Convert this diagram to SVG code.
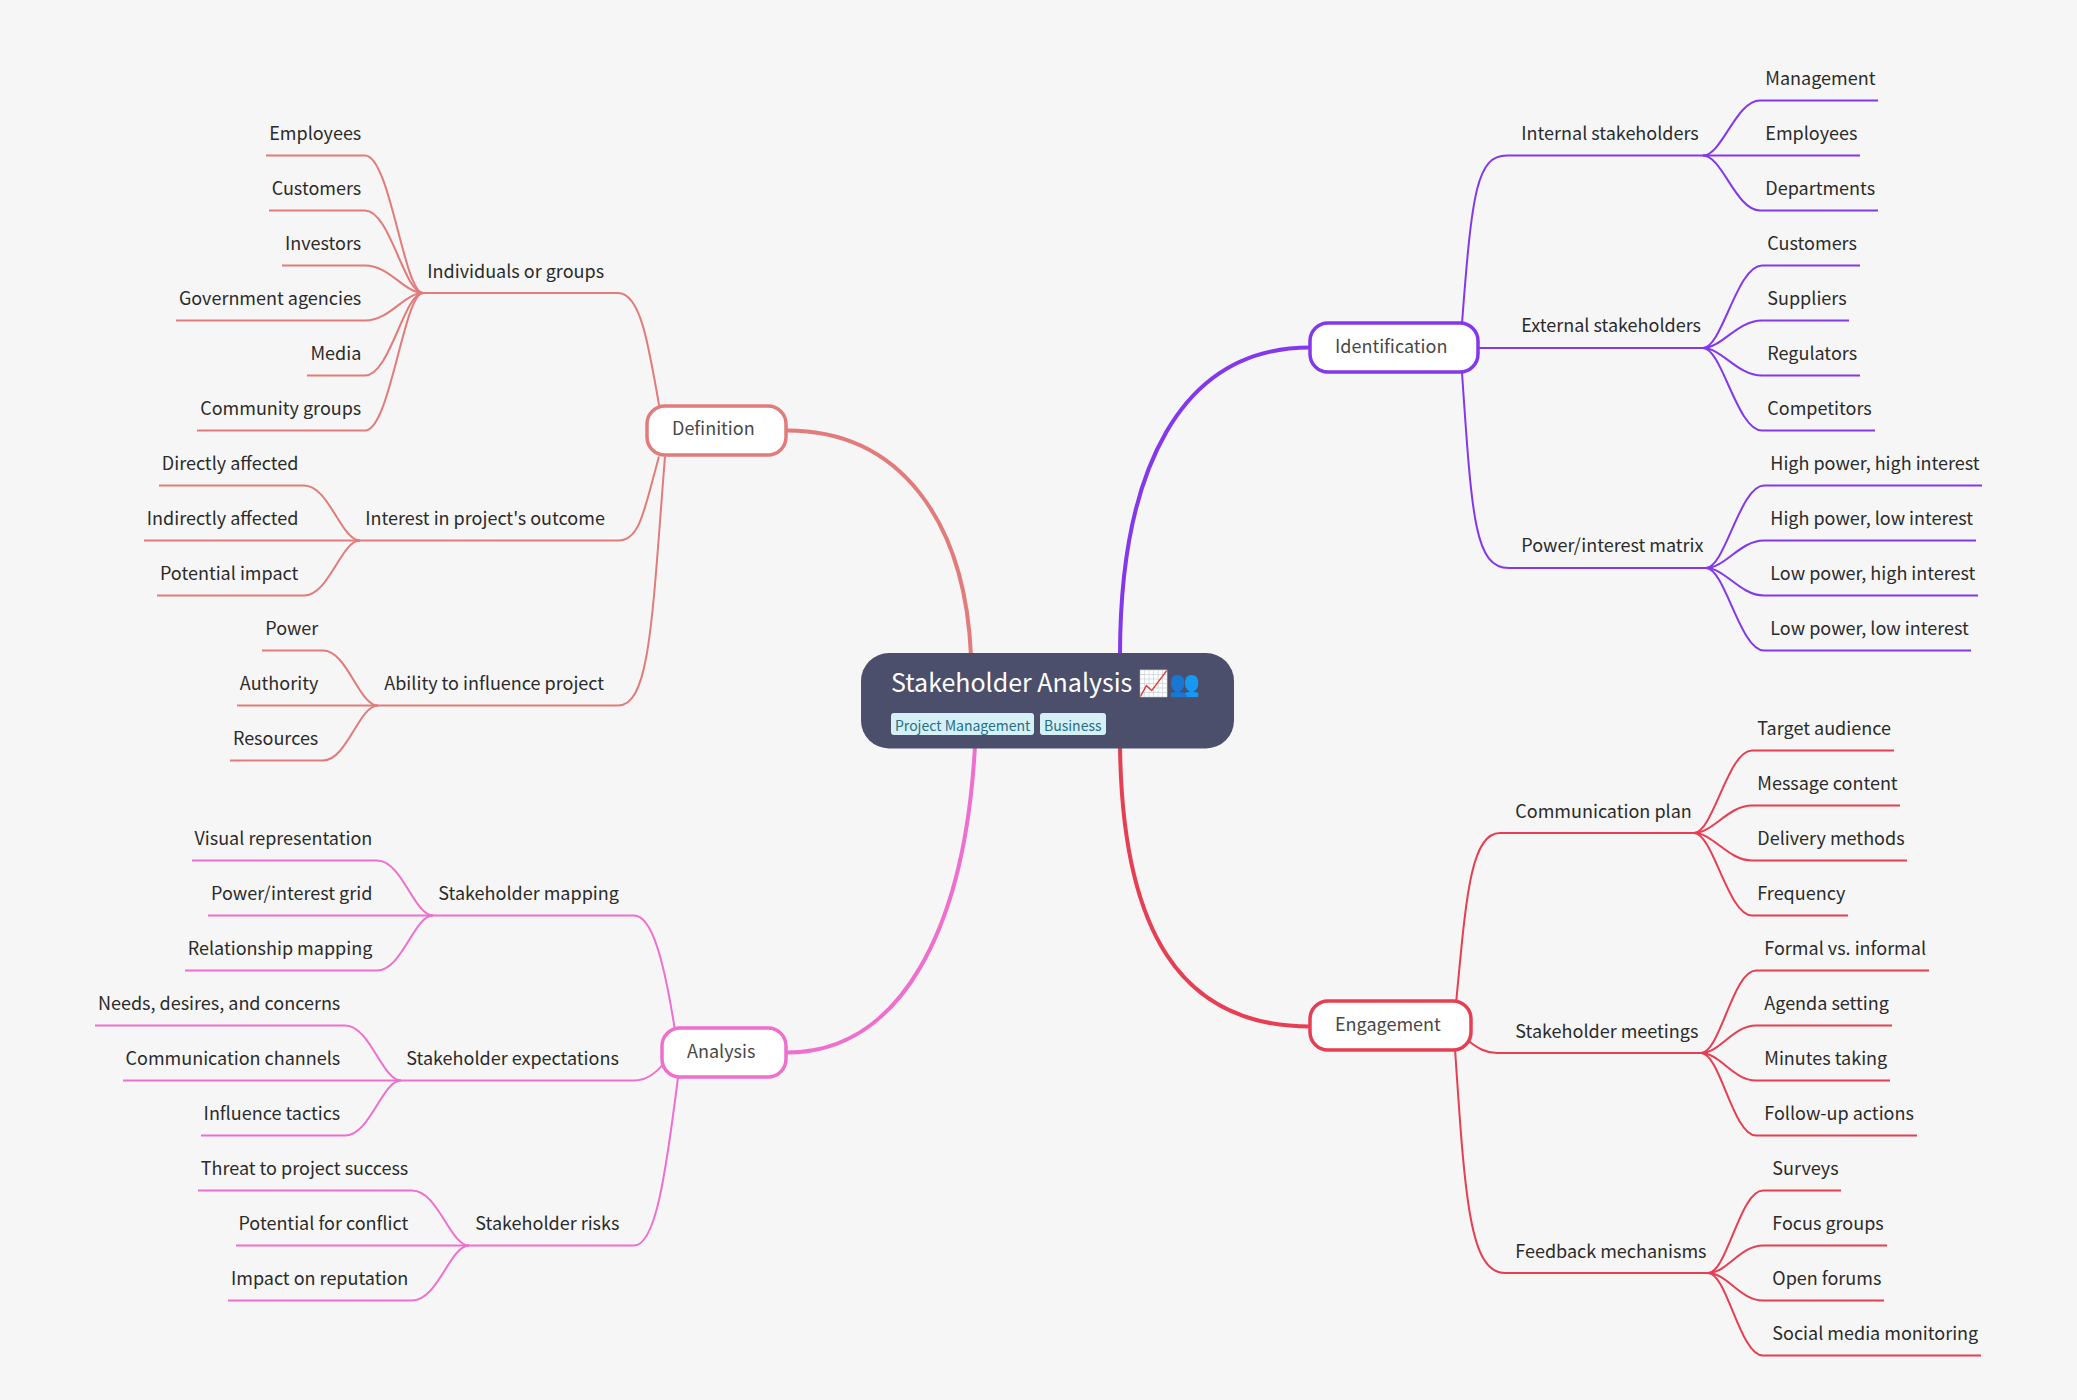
<svg xmlns="http://www.w3.org/2000/svg" width="2077" height="1400" viewBox="0 0 2077 1400">
<style>
text{font-family:"Noto Sans CJK SC","Noto Sans",sans-serif}
.leaf{font-size:18px;fill:#2b2b2b}
.end{text-anchor:end}
.l1{font-size:18px;fill:#484848}
.tag{font-size:14px;fill:#276f86}
.tagbg{fill:#d6f0f8}
.box{fill:#fff;stroke-width:3.5}
path{fill:none;stroke-linecap:butt}
.w2{stroke-width:2}
.w4{stroke-width:4}
.pu{stroke:#8338ec}.re{stroke:#e27b7b}.en{stroke:#e63e52}.an{stroke:#ee6fce}
</style>
<rect width="2077" height="1400" fill="#f6f6f6"/>
<g id="connectors" transform="translate(0,0.5)">
<g class="w4">
<path class="w4 pu" d="M1120 655C1120 470 1180 347 1310 347"/>
<path class="w4 re" d="M971 655C965 520 900 430 787 430"/>
<path class="w4 an" d="M975 745C965 930 900 1052 787 1052"/>
<path class="w4 en" d="M1120 745C1122 930 1180 1026 1310 1026"/>
</g>
<g class="w2 pu">
<path d="M1462 323C1472 190 1477 155 1507 155H1703"/>
<path d="M1478 347.500H1703"/>
<path d="M1462 372C1472 520 1475 567.500 1509 567.500H1706"/>
<path d="M1703 155C1722 155 1736 100 1760 100H1878"/>
<path d="M1703 155H1860"/>
<path d="M1703 155C1722 155 1736 210 1760 210H1878"/>
<path d="M1703 347.500C1722 347.500 1737 265 1762 265H1860"/>
<path d="M1703 347.500C1722 347.500 1737 320 1762 320H1849"/>
<path d="M1703 347.500C1722 347.500 1737 375 1762 375H1860"/>
<path d="M1703 347.500C1722 347.500 1737 430 1762 430H1875"/>
<path d="M1706 567.500C1725 567.500 1740 485 1764 485H1982"/>
<path d="M1706 567.500C1725 567.500 1740 540 1764 540H1976"/>
<path d="M1706 567.500C1725 567.500 1740 595 1764 595H1978"/>
<path d="M1706 567.500C1725 567.500 1740 650 1764 650H1971"/>
</g>
<g class="w2 re">
<path d="M618 292.500C640 292.500 648 340 660 410"/>
<path d="M423 292.500H618"/>
<path d="M360 540H618.500C640 540 644 510 659 456"/>
<path d="M378 705H618C650 705 652 620 665 456"/>
<path d="M423 292.500C404 292.500 390 155 365 155H266"/>
<path d="M423 292.500C404 292.500 390 210 365 210H269"/>
<path d="M423 292.500C404 292.500 390 265 365 265H282"/>
<path d="M423 292.500C404 292.500 390 320 365 320H176"/>
<path d="M423 292.500C404 292.500 390 375 365 375H307"/>
<path d="M423 292.500C404 292.500 390 430 365 430H197"/>
<path d="M360 540C341 540 329 485 304 485H159"/>
<path d="M360 540H144"/>
<path d="M360 540C341 540 329 595 304 595H157"/>
<path d="M378 705C359 705 347 650 323 650H262"/>
<path d="M378 705H237"/>
<path d="M378 705C359 705 347 760 323 760H230"/>
</g>
<g class="w2 an">
<path d="M433 915H634C652 915 664 960 675 1030"/>
<path d="M401 1080H634C645 1080 655 1075 666 1060"/>
<path d="M469 1245H634C655 1245 665 1180 678 1077"/>
<path d="M433 915C414 915 402 860 377 860H192"/>
<path d="M433 915H208"/>
<path d="M433 915C414 915 402 970 377 970H185"/>
<path d="M401 1080C382 1080 370 1025 345 1025H95"/>
<path d="M401 1080H123"/>
<path d="M401 1080C382 1080 370 1135 345 1135H201"/>
<path d="M469 1245C450 1245 438 1190 412 1190H198"/>
<path d="M469 1245H236"/>
<path d="M469 1245C450 1245 438 1300 412 1300H228"/>
</g>
<g class="w2 en">
<path d="M1456 1003C1466 900 1470 832.500 1500 832.500H1694"/>
<path d="M1468 1040C1478 1048 1486 1052.500 1497 1052.500H1701"/>
<path d="M1455 1048C1465 1200 1470 1272.500 1505 1272.500H1708"/>
<path d="M1694 832.500C1713 832.500 1728 750 1752 750H1894"/>
<path d="M1694 832.500C1713 832.500 1728 805 1752 805H1900"/>
<path d="M1694 832.500C1713 832.500 1728 860 1752 860H1907"/>
<path d="M1694 832.500C1713 832.500 1728 915 1752 915H1848"/>
<path d="M1701 1052.500C1720 1052.500 1733 970 1756 970H1929"/>
<path d="M1701 1052.500C1720 1052.500 1733 1025 1756 1025H1892"/>
<path d="M1701 1052.500C1720 1052.500 1733 1080 1756 1080H1890"/>
<path d="M1701 1052.500C1720 1052.500 1733 1135 1756 1135H1917"/>
<path d="M1708 1272.500C1727 1272.500 1740 1190 1763 1190H1841"/>
<path d="M1708 1272.500C1727 1272.500 1740 1245 1763 1245H1887"/>
<path d="M1708 1272.500C1727 1272.500 1740 1300 1763 1300H1884"/>
<path d="M1708 1272.500C1727 1272.500 1740 1355 1763 1355H1981"/>
</g>
</g>
<g id="root">
<rect x="861" y="653" width="373" height="95.500" rx="28" fill="#4c4f6b"/>
<text x="891" y="692" font-size="25" fill="#fff">Stakeholder Analysis 📈👥</text>
<rect class="tagbg" x="891" y="713" width="143" height="22" rx="3"/>
<text class="tag" x="895" y="731">Project Management</text>
<rect class="tagbg" x="1040" y="713" width="66" height="22" rx="3"/>
<text class="tag" x="1044" y="731">Business</text>
</g>
<g id="n-identification"><rect class="box pu" x="1310" y="323" width="168" height="49" rx="18"/><text class="l1" x="1335" y="353">Identification</text></g>
<g id="n-definition"><rect class="box re" x="647" y="406" width="139" height="49" rx="18"/><text class="l1" x="672" y="435">Definition</text></g>
<g id="n-analysis"><rect class="box an" x="662" y="1028" width="124" height="49" rx="18"/><text class="l1" x="687" y="1058">Analysis</text></g>
<g id="n-engagement"><rect class="box en" x="1310" y="1001" width="161" height="49" rx="18"/><text class="l1" x="1335" y="1031">Engagement</text></g>
<g id="labels" transform="translate(0.3,-0.8)">
<g id="i-internal"><text class="leaf" x="1521" y="141">Internal stakeholders</text></g>
<g id="i-external"><text class="leaf" x="1521" y="333">External stakeholders</text></g>
<g id="i-matrix"><text class="leaf" x="1521" y="553">Power/interest matrix</text></g>
<g id="i1"><text class="leaf" x="1765" y="86">Management</text></g>
<g id="i2"><text class="leaf" x="1765" y="141">Employees</text></g>
<g id="i3"><text class="leaf" x="1765" y="196">Departments</text></g>
<g id="i4"><text class="leaf" x="1767" y="251">Customers</text></g>
<g id="i5"><text class="leaf" x="1767" y="306">Suppliers</text></g>
<g id="i6"><text class="leaf" x="1767" y="361">Regulators</text></g>
<g id="i7"><text class="leaf" x="1767" y="416">Competitors</text></g>
<g id="i8"><text class="leaf" x="1770" y="471">High power, high interest</text></g>
<g id="i9"><text class="leaf" x="1770" y="526">High power, low interest</text></g>
<g id="i10"><text class="leaf" x="1770" y="581">Low power, high interest</text></g>
<g id="i11"><text class="leaf" x="1770" y="636">Low power, low interest</text></g>
<g id="d-individuals"><text class="leaf" x="427" y="278.500">Individuals or groups</text></g>
<g id="d-interest"><text class="leaf" x="365" y="526">Interest in project's outcome</text></g>
<g id="d-ability"><text class="leaf" x="384" y="691">Ability to influence project</text></g>
<g id="d1"><text class="leaf end" x="361" y="141">Employees</text></g>
<g id="d2"><text class="leaf end" x="361" y="196">Customers</text></g>
<g id="d3"><text class="leaf end" x="361" y="251">Investors</text></g>
<g id="d4"><text class="leaf end" x="361" y="306">Government agencies</text></g>
<g id="d5"><text class="leaf end" x="361" y="361">Media</text></g>
<g id="d6"><text class="leaf end" x="361" y="416">Community groups</text></g>
<g id="d7"><text class="leaf end" x="298" y="471">Directly affected</text></g>
<g id="d8"><text class="leaf end" x="298" y="526">Indirectly affected</text></g>
<g id="d9"><text class="leaf end" x="298" y="581">Potential impact</text></g>
<g id="d10"><text class="leaf end" x="318" y="636">Power</text></g>
<g id="d11"><text class="leaf end" x="318" y="691">Authority</text></g>
<g id="d12"><text class="leaf end" x="318" y="746">Resources</text></g>
<g id="a-mapping"><text class="leaf" x="438" y="901">Stakeholder mapping</text></g>
<g id="a-expect"><text class="leaf" x="406" y="1066">Stakeholder expectations</text></g>
<g id="a-risks"><text class="leaf" x="475" y="1231">Stakeholder risks</text></g>
<g id="a1"><text class="leaf end" x="372" y="846">Visual representation</text></g>
<g id="a2"><text class="leaf end" x="372" y="901">Power/interest grid</text></g>
<g id="a3"><text class="leaf end" x="372" y="956">Relationship mapping</text></g>
<g id="a4"><text class="leaf end" x="340" y="1011">Needs, desires, and concerns</text></g>
<g id="a5"><text class="leaf end" x="340" y="1066">Communication channels</text></g>
<g id="a6"><text class="leaf end" x="340" y="1121">Influence tactics</text></g>
<g id="a7"><text class="leaf end" x="408" y="1176">Threat to project success</text></g>
<g id="a8"><text class="leaf end" x="408" y="1231">Potential for conflict</text></g>
<g id="a9"><text class="leaf end" x="408" y="1286">Impact on reputation</text></g>
<g id="e-plan"><text class="leaf" x="1515" y="818.500">Communication plan</text></g>
<g id="e-meetings"><text class="leaf" x="1515" y="1038.500">Stakeholder meetings</text></g>
<g id="e-feedback"><text class="leaf" x="1515" y="1258.500">Feedback mechanisms</text></g>
<g id="e1"><text class="leaf" x="1757" y="736">Target audience</text></g>
<g id="e2"><text class="leaf" x="1757" y="791">Message content</text></g>
<g id="e3"><text class="leaf" x="1757" y="846">Delivery methods</text></g>
<g id="e4"><text class="leaf" x="1757" y="901">Frequency</text></g>
<g id="e5"><text class="leaf" x="1764" y="956">Formal vs. informal</text></g>
<g id="e6"><text class="leaf" x="1764" y="1011">Agenda setting</text></g>
<g id="e7"><text class="leaf" x="1764" y="1066">Minutes taking</text></g>
<g id="e8"><text class="leaf" x="1764" y="1121">Follow-up actions</text></g>
<g id="e9"><text class="leaf" x="1772" y="1176">Surveys</text></g>
<g id="e10"><text class="leaf" x="1772" y="1231">Focus groups</text></g>
<g id="e11"><text class="leaf" x="1772" y="1286">Open forums</text></g>
<g id="e12"><text class="leaf" x="1772" y="1341">Social media monitoring</text></g>
</g>
</svg>
